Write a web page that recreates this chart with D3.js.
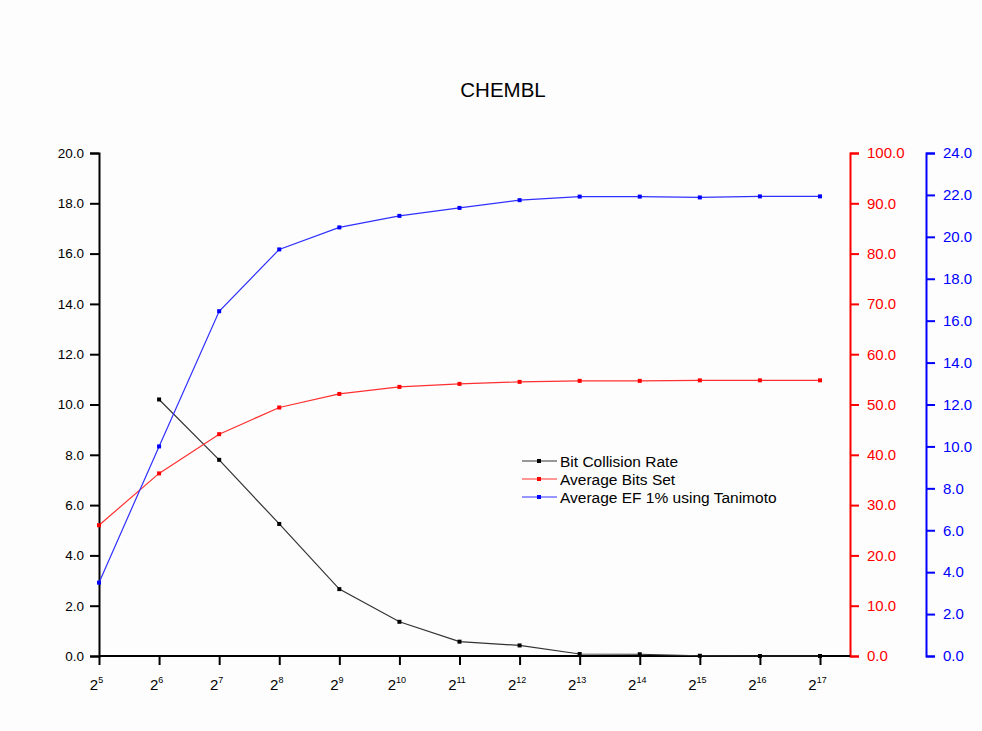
<!DOCTYPE html>
<html>
<head>
<meta charset="utf-8">
<script src="https://cdn.jsdelivr.net/npm/d3@7/dist/d3.min.js"></script>
<style>
  html, body { margin: 0; padding: 0; background: #fdfdfd; }
  svg { display: block; font-family: "Liberation Sans", Arial, sans-serif; }
</style>
</head>
<body>
<svg id="chart" width="982" height="731"></svg>
<script>
// Fingerprint length as a power of two
const exponents = [5, 6, 7, 8, 9, 10, 11, 12, 13, 14, 15, 16, 17];

// Bit collision rate (left axis); no value at 2^5
const collisionRate = [null, 10.2, 7.8, 5.25, 2.66, 1.36, 0.57, 0.42, 0.08, 0.07, 0.01, 0.0, 0.0];

// Average number of bits set (red axis)
const avgBitsSet = [26.0, 36.3, 44.1, 49.4, 52.1, 53.5, 54.1, 54.5, 54.7, 54.7, 54.8, 54.8, 54.8];

// Average EF 1% using Tanimoto (blue axis)
const avgEF = [3.5, 10.0, 16.45, 19.4, 20.45, 21.0, 21.38, 21.75, 21.92, 21.92, 21.88, 21.93, 21.93];

const leftTicks = [0, 2, 4, 6, 8, 10, 12, 14, 16, 18, 20];
const redTicks = [0, 10, 20, 30, 40, 50, 60, 70, 80, 90, 100];
const blueTicks = [0, 2, 4, 6, 8, 10, 12, 14, 16, 18, 20, 22, 24];

const svg = d3.select("#chart");
const plotTop = 153, plotBottom = 656, plotLeft = 99, plotRight = 820, redX = 850, blueX = 926;

const x = d3.scaleLinear().domain([5, 17]).range([plotLeft, plotRight]);
const yL = d3.scaleLinear().domain([0, 20]).range([plotBottom, plotTop]);
const yR = d3.scaleLinear().domain([0, 100]).range([plotBottom, plotTop]);
const yB = d3.scaleLinear().domain([0, 24]).range([plotBottom, plotTop]);

// Title
svg.append("text").attr("x", 503).attr("y", 97).attr("text-anchor", "middle")
  .attr("font-size", 20.5).attr("fill", "#000").text("CHEMBL");

function styleAxis(g, color, size) {
  g.selectAll(".domain").attr("stroke", color).attr("stroke-width", 2);
  g.selectAll(".tick line").attr("stroke", color).attr("stroke-width", 2);
  g.selectAll(".tick text").attr("fill", color).attr("font-size", size)
    .attr("font-family", "'Liberation Sans', Arial, sans-serif");
}

// Left axis
const gL = svg.append("g").attr("transform", `translate(${plotLeft},0)`)
  .call(d3.axisLeft(yL).tickValues(leftTicks).tickFormat(d3.format(".1f")).tickSizeOuter(0).tickSize(9).tickPadding(6));
styleAxis(gL, "#000", 13.5);

// Red axis
const gR = svg.append("g").attr("transform", `translate(${redX},0)`)
  .call(d3.axisRight(yR).tickValues(redTicks).tickFormat(d3.format(".1f")).tickSizeOuter(0).tickSize(9).tickPadding(8));
styleAxis(gR, "#ff0000", 15);

// Blue axis
const gB = svg.append("g").attr("transform", `translate(${blueX},0)`)
  .call(d3.axisRight(yB).tickValues(blueTicks).tickFormat(d3.format(".1f")).tickSizeOuter(0).tickSize(9).tickPadding(8));
styleAxis(gB, "#0000ff", 15);

// Bottom axis, spanning to the red axis
svg.append("line").attr("x1", plotLeft).attr("x2", redX).attr("y1", plotBottom).attr("y2", plotBottom)
  .attr("stroke", "#000").attr("stroke-width", 2);
const gX = svg.append("g").attr("transform", `translate(0,${plotBottom})`)
  .call(d3.axisBottom(x).tickValues(exponents).tickSizeOuter(0).tickSize(9).tickFormat(""));
gX.select(".domain").remove();
gX.selectAll(".tick line").attr("stroke", "#000").attr("stroke-width", 2);
gX.selectAll(".tick").append("text")
  .attr("y", 34).attr("text-anchor", "middle").attr("fill", "#000").attr("font-size", 15)
  .attr("dx", -3)
  .each(function(d) {
    const t = d3.select(this);
    t.append("tspan").text("2");
    t.append("tspan").attr("dy", -7).attr("font-size", 9).text(d);
  });

// Series
const series = [
  { name: "Bit Collision Rate", values: collisionRate, y: yL, color: "#000000", stroke: "#333333" },
  { name: "Average Bits Set", values: avgBitsSet, y: yR, color: "#ff0000", stroke: "#ff3030" },
  { name: "Average EF 1% using Tanimoto", values: avgEF, y: yB, color: "#0000ff", stroke: "#3030ff" }
];

series.forEach(s => {
  const pts = exponents.map((e, i) => ({ e, v: s.values[i] })).filter(p => p.v !== null);
  const line = d3.line().x(p => x(p.e)).y(p => s.y(p.v));
  svg.append("path").datum(pts).attr("d", line).attr("fill", "none")
    .attr("stroke", s.stroke).attr("stroke-width", 1.2);
  svg.selectAll(null).data(pts).enter().append("rect")
    .attr("x", p => x(p.e) - 2).attr("y", p => s.y(p.v) - 2)
    .attr("width", 4).attr("height", 4).attr("fill", s.color);
});

// Legend
const legend = svg.append("g").attr("transform", "translate(522,461)");
series.forEach((s, i) => {
  const g = legend.append("g").attr("transform", `translate(0,${i * 18})`);
  g.append("line").attr("x1", 0).attr("x2", 35).attr("y1", 0).attr("y2", 0)
    .attr("stroke", s.stroke).attr("stroke-width", 1.2);
  g.append("rect").attr("x", 15).attr("y", -2).attr("width", 4).attr("height", 4).attr("fill", s.color);
  g.append("text").attr("x", 38).attr("y", 5.5).attr("font-size", 15.5).attr("fill", "#000").text(s.name);
});
</script>
</body>
</html>
